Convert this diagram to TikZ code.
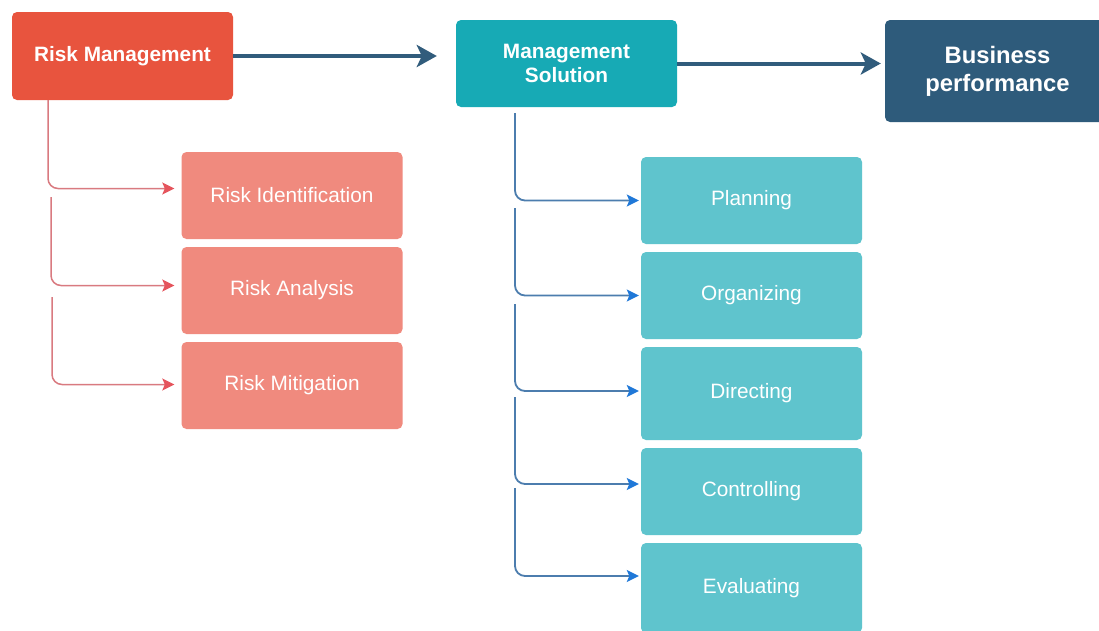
\documentclass[tikz,border=0pt]{standalone}
\usepackage{fontspec}
\setmainfont{Liberation Sans}
\usetikzlibrary{arrows.meta}

\definecolor{rmred}{HTML}{E8543E}
\definecolor{subred}{HTML}{F08A7E}
\definecolor{msteal}{HTML}{17AAB5}
\definecolor{subteal}{HTML}{5FC4CD}
\definecolor{bpblue}{HTML}{2E5B7B}
\definecolor{mainarrow}{HTML}{315C7C}
\definecolor{redline}{HTML}{D97A80}
\definecolor{redtip}{HTML}{E5545C}
\definecolor{blueline}{HTML}{4C7DAE}
\definecolor{bluetip}{HTML}{1F78D8}

\tikzset{
  box/.style={rectangle, rounded corners=5pt, text=white, align=center,
    minimum width=221pt, minimum height=87pt, inner sep=0pt},
  headbox/.style={box, font=\bfseries\fontsize{20.8}{24}\selectfont},
  subbox/.style={box, font=\fontsize{20.8}{24}\selectfont},
  mainlink/.style={draw=mainarrow, line width=4pt,
    -{Stealth[length=20pt,width=22pt,inset=5pt,color=mainarrow]}},
  redlink/.style={draw=redline, line width=1.5pt, rounded corners=10pt,
    -{Stealth[length=12pt,width=12pt,inset=2.5pt,color=redtip]}, shorten >=7pt},
  bluelink/.style={draw=blueline, line width=1.8pt, rounded corners=10pt,
    -{Stealth[length=12pt,width=12pt,inset=2.5pt,color=bluetip]}, shorten >=2pt},
}

\begin{document}
\begin{tikzpicture}[x=1pt, y=-1pt]
  \useasboundingbox (0,0) rectangle (1099,630);
  \fill[white] (0,0) rectangle (1099,630);

  % top row
  \node[headbox, fill=rmred, minimum height=88pt] (rm) at (122.5,56) {Risk Management};
  \node[headbox, fill=msteal] (ms) at (566.5,63.5) {Management\\Solution};
  \node[box, fill=bpblue, minimum width=225pt, minimum height=102pt,
        font=\bfseries\fontsize{23.8}{28}\selectfont] (bp) at (997.5,71) {Business\\performance};

  \draw[mainlink] (rm.east) -- (rm.east -| ms.west) [shorten >=19pt];
  \draw[mainlink, shorten >=4pt] (ms.east) -- (ms.east -| bp.west);

  % risk management steps
  \node[subbox, fill=subred] (ri) at (292,195.5) {Risk Identification};
  \node[subbox, fill=subred] (ra) at (292,290.5) {Risk Analysis};
  \node[subbox, fill=subred] (rmit) at (292,385.5) {Risk Mitigation};

  \coordinate (rb1) at (48,100);
  \coordinate (rb2) at (51,197);
  \coordinate (rb3) at (52,297);
  \draw[redlink] (rb1) |- ([yshift=7pt]ri.west);
  \draw[redlink] (rb2) |- ([yshift=5pt]ra.west);
  \draw[redlink] (rb3) |- ([yshift=1pt]rmit.west);

  % management functions
  \node[subbox, fill=subteal] (pl) at (751.5,200.5) {Planning};
  \node[subbox, fill=subteal] (org) at (751.5,295.5) {Organizing};
  \node[subbox, fill=subteal, minimum height=93pt] (dir) at (751.5,393.5) {Directing};
  \node[subbox, fill=subteal] (ctl) at (751.5,491.5) {Controlling};
  \node[subbox, fill=subteal, minimum height=90pt] (ev) at (751.5,588) {Evaluating};

  \coordinate (bb1) at (515,113);
  \coordinate (bb2) at (515,208);
  \coordinate (bb3) at (515,304);
  \coordinate (bb4) at (515,397);
  \coordinate (bb5) at (515,488);
  \draw[bluelink] (bb1) |- (pl.west);
  \draw[bluelink] (bb2) |- (org.west);
  \draw[bluelink] (bb3) |- ([yshift=2.5pt]dir.west);
  \draw[bluelink] (bb4) |- ([yshift=7.5pt]ctl.west);
  \draw[bluelink] (bb5) |- ([yshift=12pt]ev.west);
\end{tikzpicture}
\end{document}
